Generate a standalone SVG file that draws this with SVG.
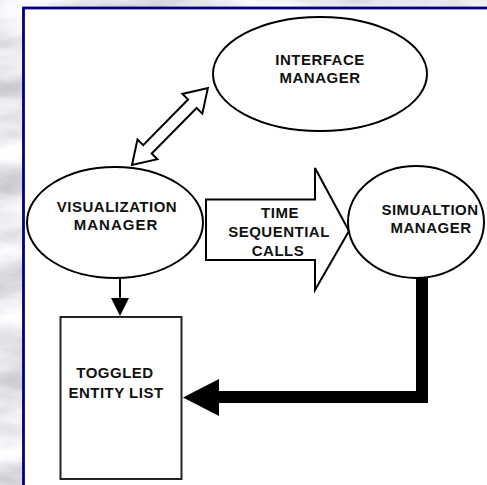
<svg xmlns="http://www.w3.org/2000/svg" width="487" height="485" viewBox="0 0 487 485">
  <defs>
    <filter id="marble" x="0" y="0" width="487" height="485" filterUnits="userSpaceOnUse">
      <feTurbulence type="fractalNoise" baseFrequency="0.01 0.03" numOctaves="5" seed="11"/>
      <feColorMatrix type="matrix" values="0.7 0 0 0 0.45  0.7 0 0 0 0.46  0.7 0 0 0 0.48  0 0 0 0 1"/>
    </filter>
    <style>
      .lbl { font-family: "Liberation Sans", Arial, sans-serif; font-weight: bold; font-size: 15px; letter-spacing: 0.5px; fill: #111; text-anchor: middle; }
      .node { fill: #fff; stroke: #000; stroke-width: 2; }
      .hollow { fill: #fff; stroke: #000; stroke-width: 2; stroke-linejoin: miter; }
    </style>
  </defs>

  <rect x="0" y="0" width="487" height="485" fill="#d0d2d4" filter="url(#marble)"/>
  <rect id="panel" x="23.5" y="8" width="480" height="490" fill="#fff" stroke="#000080" stroke-width="2.8"/>

  <g id="connectors">
    <polygon class="hollow" transform="translate(132,165) rotate(-45.4)" points="0,0 22,-14 22,-6 86,-6 86,-14 108,0 86,14 86,6 22,6 22,14"/>
    <polygon class="hollow" points="206,199.5 315,199.5 315,168 349,231 315,290 315,260 206,260"/>
    <line x1="120" y1="278" x2="120" y2="300" stroke="#000" stroke-width="2"/>
    <polygon points="111,298 129,298 120,316" fill="#000"/>
    <polyline points="422,276 422,397 216,397" fill="none" stroke="#000" stroke-width="12" stroke-linejoin="miter"/>
    <polygon points="219,379 183,397.5 219,416" fill="#000"/>
  </g>

  <g id="interface-manager">
    <ellipse class="node" cx="320" cy="74" rx="107" ry="57"/>
    <text class="lbl" x="320" y="65">INTERFACE</text>
    <text class="lbl" x="320" y="83">MANAGER</text>
  </g>

  <g id="visualization-manager">
    <ellipse class="node" cx="115" cy="222.5" rx="88" ry="55.5"/>
    <text class="lbl" x="117" y="212">VISUALIZATION</text>
    <text class="lbl" x="116" y="230" style="letter-spacing:1px">MANAGER</text>
  </g>

  <g id="time-label">
    <text class="lbl" x="280" y="218">TIME</text>
    <text class="lbl" x="279" y="237">SEQUENTIAL</text>
    <text class="lbl" x="278" y="256">CALLS</text>
  </g>

  <g id="simulation-manager">
    <ellipse class="node" cx="416" cy="222" rx="68" ry="56"/>
    <text class="lbl" x="430" y="215">SIMUALTION</text>
    <text class="lbl" x="431" y="233">MANAGER</text>
  </g>

  <g id="toggled-entity-list">
    <rect x="60.5" y="317" width="121" height="162" fill="#fff" stroke="#222" stroke-width="2"/>
    <text class="lbl" x="115" y="378">TOGGLED</text>
    <text class="lbl" x="116" y="398">ENTITY LIST</text>
  </g>
</svg>
